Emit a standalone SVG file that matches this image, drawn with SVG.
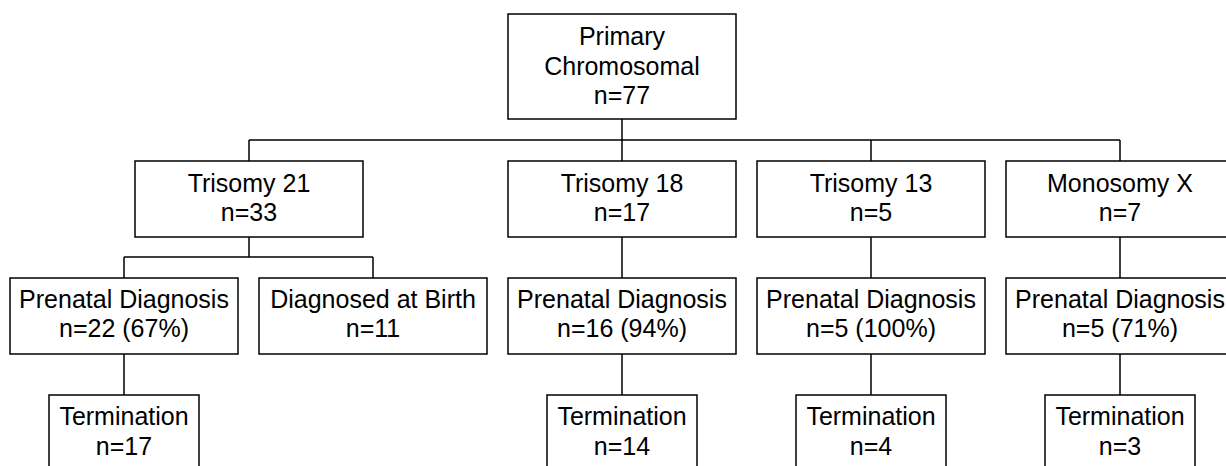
<svg xmlns="http://www.w3.org/2000/svg" width="1226" height="466" viewBox="0 0 1226 466">
<style>
.box{fill:#fff;stroke:#000;stroke-width:1.5}
.ln{fill:none;stroke:#000;stroke-width:1.5}
text{font-family:"Liberation Sans",Arial,sans-serif;font-size:25px;fill:#000;text-anchor:middle}
</style>
<rect width="1226" height="466" fill="#fff"/>
<g id="connectors">
<path class="ln" d="M622,119 V161 M249,140 H1120 M249,140 V161 M871,140 V161 M1120,140 V161"/>
<path class="ln" d="M249,237 V257 M124,257 H373 M124,257 V278 M373,257 V278"/>
<path class="ln" d="M622,237 V278 M871,237 V278 M1120,237 V278"/>
<path class="ln" d="M124,354 V395 M622,354 V395 M871,354 V395 M1120,354 V395"/>
</g>
<g id="root">
<rect class="box" x="508" y="14" width="228" height="105"/>
<text x="622" y="45">Primary</text>
<text x="622" y="75">Chromosomal</text>
<text x="622" y="104">n=77</text>
</g>
<g id="t21">
<rect class="box" x="135" y="161" width="228" height="76"/>
<text x="249" y="192">Trisomy 21</text>
<text x="249" y="221">n=33</text>
</g>
<g id="t18">
<rect class="box" x="508" y="161" width="228" height="76"/>
<text x="622" y="192">Trisomy 18</text>
<text x="622" y="221">n=17</text>
</g>
<g id="t13">
<rect class="box" x="757" y="161" width="228" height="76"/>
<text x="871" y="192">Trisomy 13</text>
<text x="871" y="221">n=5</text>
</g>
<g id="mx">
<rect class="box" x="1006" y="161" width="228" height="76"/>
<text x="1120" y="192">Monosomy X</text>
<text x="1120" y="221">n=7</text>
</g>
<g id="t21-prenatal">
<rect class="box" x="10" y="278" width="228" height="76"/>
<text x="124" y="308">Prenatal Diagnosis</text>
<text x="124" y="337">n=22 (67%)</text>
</g>
<g id="t21-birth">
<rect class="box" x="259" y="278" width="228" height="76"/>
<text x="373" y="308">Diagnosed at Birth</text>
<text x="373" y="337">n=11</text>
</g>
<g id="t18-prenatal">
<rect class="box" x="508" y="278" width="228" height="76"/>
<text x="622" y="308">Prenatal Diagnosis</text>
<text x="622" y="337">n=16 (94%)</text>
</g>
<g id="t13-prenatal">
<rect class="box" x="757" y="278" width="228" height="76"/>
<text x="871" y="308">Prenatal Diagnosis</text>
<text x="871" y="337">n=5 (100%)</text>
</g>
<g id="mx-prenatal">
<rect class="box" x="1006" y="278" width="228" height="76"/>
<text x="1120" y="308">Prenatal Diagnosis</text>
<text x="1120" y="337">n=5 (71%)</text>
</g>
<g id="t21-term">
<rect class="box" x="49" y="395" width="150" height="76"/>
<text x="124" y="425">Termination</text>
<text x="124" y="455">n=17</text>
</g>
<g id="t18-term">
<rect class="box" x="547" y="395" width="150" height="76"/>
<text x="622" y="425">Termination</text>
<text x="622" y="455">n=14</text>
</g>
<g id="t13-term">
<rect class="box" x="796" y="395" width="150" height="76"/>
<text x="871" y="425">Termination</text>
<text x="871" y="455">n=4</text>
</g>
<g id="mx-term">
<rect class="box" x="1045" y="395" width="150" height="76"/>
<text x="1120" y="425">Termination</text>
<text x="1120" y="455">n=3</text>
</g>
</svg>
